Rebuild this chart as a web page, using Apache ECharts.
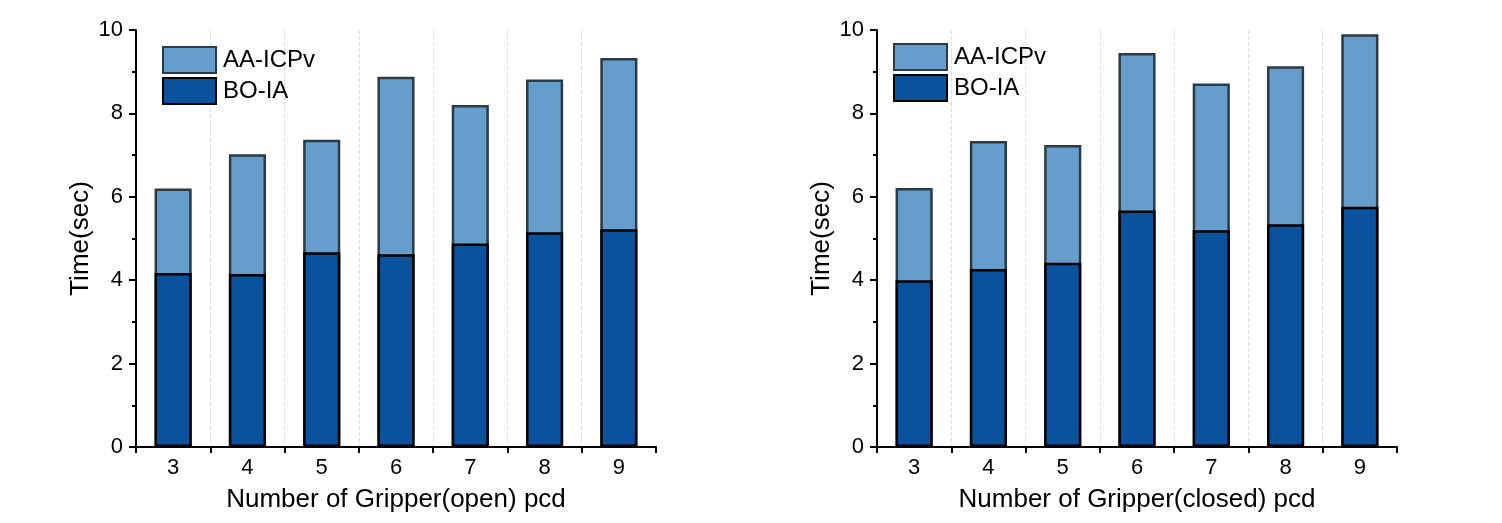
<!DOCTYPE html>
<html>
<head>
<meta charset="utf-8">
<script src="https://cdn.jsdelivr.net/npm/echarts@6/dist/echarts.min.js"></script>
<style>
  html, body { margin: 0; padding: 0; background: #fff; }
  #main { width: 1502px; height: 523px; }
</style>
</head>
<body>
<div id="main"></div>
<script>
// 数据
var categories = ['3', '4', '5', '6', '7', '8', '9'];
// 左图 Gripper(open)：AA-ICPv 为总时间，BO-IA 为前景
var openAA = [6.20, 7.02, 7.37, 8.88, 8.20, 8.81, 9.33];
var openBO = [4.17, 4.15, 4.67, 4.62, 4.88, 5.15, 5.22];
// 右图 Gripper(closed)
var closedAA = [6.21, 7.34, 7.24, 9.45, 8.72, 9.13, 9.90];
var closedBO = [4.00, 4.27, 4.42, 5.67, 5.20, 5.34, 5.76];
var yTicks = [0, 2, 4, 6, 8, 10];

var FONT = 'Liberation Sans';
var lightColor = '#659ECC';
var darkColor = '#0A529D';

function xAxisOf(idx, title){
    return {
        type: 'category',
        gridIndex: idx,
        data: categories,
        name: title,
        nameLocation: 'middle',
        nameGap: 40,
        nameTextStyle: {fontFamily: FONT, fontSize: 26, color: '#000'},
        axisLine: {lineStyle: {color: '#000', width: 2}},
        axisTick: {show: true, length: 6, lineStyle: {color: '#000', width: 2}},
        axisLabel: {fontFamily: FONT, fontSize: 22, color: '#000', margin: 10},
        splitLine: {
            show: true,
            showMinLine: false,
            showMaxLine: false,
            lineStyle: {color: '#dcdcdc', type: 'dashed', width: 1}
        }
    };
}

function yAxisOf(idx){
    return {
        type: 'value',
        gridIndex: idx,
        min: yTicks[0],
        max: yTicks[yTicks.length - 1],
        interval: 2,
        name: 'Time(sec)',
        nameLocation: 'middle',
        nameGap: 42,
        nameTextStyle: {fontFamily: FONT, fontSize: 26, color: '#000'},
        axisLine: {show: true, lineStyle: {color: '#000', width: 2}},
        axisTick: {show: true, length: 7, lineStyle: {color: '#000', width: 2}},
        minorTick: {show: true, splitNumber: 2, length: 4, lineStyle: {color: '#000', width: 2}},
        axisLabel: {fontFamily: FONT, fontSize: 22, color: '#000', margin: 13},
        splitLine: {show: false}
    };
}

function barsOf(idx, aa, bo){
    return [{
        name: 'AA-ICPv',
        type: 'bar',
        xAxisIndex: idx,
        yAxisIndex: idx,
        data: aa,
        barWidth: '50%',
        barGap: '-100%',
        itemStyle: {color: lightColor, borderColor: '#2B3A44', borderWidth: 2.5}
    }, {
        name: 'BO-IA',
        type: 'bar',
        xAxisIndex: idx,
        yAxisIndex: idx,
        data: bo,
        barWidth: '50%',
        barGap: '-100%',
        itemStyle: {color: darkColor, borderColor: '#000', borderWidth: 2.5}
    }];
}

function legendOf(left, top){
    return {
        orient: 'vertical',
        left: left,
        top: top,
        icon: 'rect',
        itemWidth: 53,
        itemHeight: 26,
        itemGap: 3,
        selectedMode: false,
        textStyle: {fontFamily: FONT, fontSize: 24, color: '#000', padding: [0, 0, 0, 2]},
        data: ['AA-ICPv', 'BO-IA']
    };
}

var chart = echarts.init(document.getElementById('main'), null, {renderer: 'canvas'});
var option = {
    backgroundColor: '#fff',
    animation: false,
    textStyle: {fontFamily: FONT},
    legend: [legendOf(157, 41), legendOf(888, 38)],
    grid: [
        {left: 136, top: 30, width: 520, height: 417},
        {left: 877, top: 30, width: 520, height: 417}
    ],
    xAxis: [
        xAxisOf(0, 'Number of Gripper(open) pcd'),
        xAxisOf(1, 'Number of Gripper(closed) pcd')
    ],
    yAxis: [yAxisOf(0), yAxisOf(1)],
    series: barsOf(0, openAA, openBO).concat(barsOf(1, closedAA, closedBO))
};
chart.setOption(option);

window.onresize = function () {
    chart.resize();
};
</script>
</body>
</html>
